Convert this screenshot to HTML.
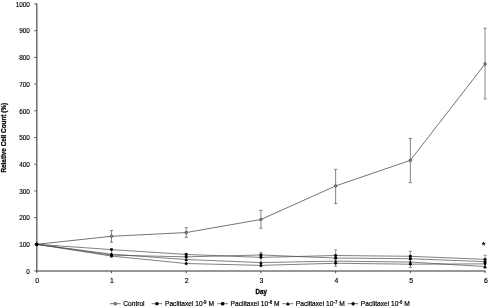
<!DOCTYPE html>
<html><head><meta charset="utf-8"><title>Chart</title>
<style>
html,body{margin:0;padding:0;background:#fff;}
svg{display:block;font-family:"Liberation Sans",Arial,sans-serif;}
</style></head><body>
<svg width="488" height="308" viewBox="0 0 488 308">
<rect width="488" height="308" fill="#fff"/>

<g stroke="#5e5e5e" stroke-width="1.35" fill="none">
<line x1="36.8" y1="3.5" x2="36.8" y2="271.6"/>
<line x1="36.199999999999996" y1="271.0" x2="485.56" y2="271.0" stroke="#747474" stroke-width="1.5"/>
</g>
<g stroke="#444" stroke-width="0.9" fill="none">
<line x1="34.3" y1="271.00" x2="36.8" y2="271.00"/>
<line x1="34.3" y1="244.30" x2="36.8" y2="244.30"/>
<line x1="34.3" y1="217.60" x2="36.8" y2="217.60"/>
<line x1="34.3" y1="190.90" x2="36.8" y2="190.90"/>
<line x1="34.3" y1="164.20" x2="36.8" y2="164.20"/>
<line x1="34.3" y1="137.50" x2="36.8" y2="137.50"/>
<line x1="34.3" y1="110.80" x2="36.8" y2="110.80"/>
<line x1="34.3" y1="84.10" x2="36.8" y2="84.10"/>
<line x1="34.3" y1="57.40" x2="36.8" y2="57.40"/>
<line x1="34.3" y1="30.70" x2="36.8" y2="30.70"/>
<line x1="34.3" y1="4.00" x2="36.8" y2="4.00"/>
<line x1="36.80" y1="271.0" x2="36.80" y2="273.2"/>
<line x1="111.51" y1="271.0" x2="111.51" y2="273.2"/>
<line x1="186.22" y1="271.0" x2="186.22" y2="273.2"/>
<line x1="260.93" y1="271.0" x2="260.93" y2="273.2"/>
<line x1="335.64" y1="271.0" x2="335.64" y2="273.2"/>
<line x1="410.35" y1="271.0" x2="410.35" y2="273.2"/>
<line x1="485.06" y1="271.0" x2="485.06" y2="273.2"/>
</g>
<g font-size="6.9" fill="#000" stroke="#000" stroke-width="0.15" text-anchor="end" transform="translate(29.9,0) scale(0.93,1)">
<text x="0" y="273.80">0</text>
<text x="0" y="247.10">100</text>
<text x="0" y="220.40">200</text>
<text x="0" y="193.70">300</text>
<text x="0" y="167.00">400</text>
<text x="0" y="140.30">500</text>
<text x="0" y="113.60">600</text>
<text x="0" y="86.90">700</text>
<text x="0" y="60.20">800</text>
<text x="0" y="33.50">900</text>
<text x="0" y="6.80">1000</text>
</g>
<g font-size="6.9" fill="#000" stroke="#000" stroke-width="0.15" text-anchor="middle">
<text x="37.10" y="283.1">0</text>
<text x="111.90" y="283.1">1</text>
<text x="186.70" y="283.1">2</text>
<text x="261.50" y="283.1">3</text>
<text x="336.30" y="283.1">4</text>
<text x="411.10" y="283.1">5</text>
<text x="485.90" y="283.1">6</text>
</g>
<text transform="translate(261.3,293.8) scale(0.89,1)" font-size="7" font-weight="bold" text-anchor="middle" fill="#000" stroke="#000" stroke-width="0.3">Day</text>
<text transform="translate(5.9,137.7) rotate(-90) scale(0.94,1)" font-size="6.8" font-weight="bold" text-anchor="middle" fill="#000" stroke="#000" stroke-width="0.25">Relative Cell Count (%)</text>
<polyline points="36.80,244.30 111.51,236.29 186.22,232.55 260.93,219.47 335.64,185.96 410.35,160.33 485.06,63.94" fill="none" stroke="#444" stroke-width="0.75"/>
<path d="M111.51 230.45V242.2M109.91 230.45h3.2M109.91 242.2h3.2" fill="none" stroke="#666" stroke-width="0.8"/>
<path d="M186.22 227.7V237.3M184.62 227.7h3.2M184.62 237.3h3.2" fill="none" stroke="#666" stroke-width="0.8"/>
<path d="M260.93 210.4V228.2M259.33 210.4h3.2M259.33 228.2h3.2" fill="none" stroke="#666" stroke-width="0.8"/>
<path d="M335.64 169.4V203.6M334.04 169.4h3.2M334.04 203.6h3.2" fill="none" stroke="#666" stroke-width="0.8"/>
<path d="M410.35 138.4V182.6M408.75 138.4h3.2M408.75 182.6h3.2" fill="none" stroke="#666" stroke-width="0.8"/>
<path d="M485.06 28.2V98.9M483.46 28.2h3.2M483.46 98.9h3.2" fill="none" stroke="#666" stroke-width="0.8"/>
<circle cx="36.80" cy="244.30" r="1.3" fill="#8a8a8a" stroke="#444" stroke-width="0.7"/>
<circle cx="111.51" cy="236.29" r="1.3" fill="#8a8a8a" stroke="#444" stroke-width="0.7"/>
<circle cx="186.22" cy="232.55" r="1.3" fill="#8a8a8a" stroke="#444" stroke-width="0.7"/>
<circle cx="260.93" cy="219.47" r="1.3" fill="#8a8a8a" stroke="#444" stroke-width="0.7"/>
<circle cx="335.64" cy="185.96" r="1.3" fill="#8a8a8a" stroke="#444" stroke-width="0.7"/>
<circle cx="410.35" cy="160.33" r="1.3" fill="#8a8a8a" stroke="#444" stroke-width="0.7"/>
<circle cx="485.06" cy="63.94" r="1.3" fill="#8a8a8a" stroke="#444" stroke-width="0.7"/>
<polyline points="36.80,244.30 111.51,249.64 186.22,254.45 260.93,257.38 335.64,255.51 410.35,256.31 485.06,259.33" fill="none" stroke="#4a4a4a" stroke-width="0.7"/>
<polyline points="36.80,244.30 111.51,255.11 186.22,256.85 260.93,254.98 335.64,258.05 410.35,258.72 485.06,261.65" fill="none" stroke="#4a4a4a" stroke-width="0.7"/>
<polyline points="36.80,244.30 111.51,254.18 186.22,259.52 260.93,262.59 335.64,261.12 410.35,262.06 485.06,266.57" fill="none" stroke="#4a4a4a" stroke-width="0.7"/>
<polyline points="36.80,244.30 111.51,256.05 186.22,263.52 260.93,265.39 335.64,263.26 410.35,264.19 485.06,263.87" fill="none" stroke="#4a4a4a" stroke-width="0.7"/>
<path d="M111.51 248.57V257.12M109.91 248.57h3.2M109.91 257.12h3.2" fill="none" stroke="#6a6a6a" stroke-width="0.7"/>
<path d="M186.22 253.38V264.59M184.62 253.38h3.2M184.62 264.59h3.2" fill="none" stroke="#6a6a6a" stroke-width="0.7"/>
<path d="M260.93 252.31V266.46M259.33 252.31h3.2M259.33 266.46h3.2" fill="none" stroke="#6a6a6a" stroke-width="0.7"/>
<path d="M335.64 249.91V266.30M334.04 249.91h3.2M334.04 266.30h3.2" fill="none" stroke="#6a6a6a" stroke-width="0.7"/>
<path d="M410.35 251.24V267.53M408.75 251.24h3.2M408.75 267.53h3.2" fill="none" stroke="#6a6a6a" stroke-width="0.7"/>
<path d="M485.06 255.25V268.33M483.46 255.25h3.2M483.46 268.33h3.2" fill="none" stroke="#6a6a6a" stroke-width="0.7"/>
<circle cx="36.80" cy="244.30" r="1.45" fill="#000"/>
<rect x="35.40" y="242.90" width="2.8" height="2.8" fill="#000"/>
<path d="M36.80 242.60L38.40 245.70H35.20Z" fill="#000"/>
<path d="M36.80 242.50L38.50 244.30L36.80 246.10L35.10 244.30Z" fill="#000"/>
<circle cx="111.51" cy="249.64" r="1.45" fill="#000"/>
<rect x="110.11" y="253.71" width="2.8" height="2.8" fill="#000"/>
<path d="M111.51 252.48L113.11 255.58H109.91Z" fill="#000"/>
<path d="M111.51 254.25L113.21 256.05L111.51 257.85L109.81 256.05Z" fill="#000"/>
<circle cx="186.22" cy="254.45" r="1.45" fill="#000"/>
<rect x="184.82" y="255.45" width="2.8" height="2.8" fill="#000"/>
<path d="M186.22 257.82L187.82 260.92H184.62Z" fill="#000"/>
<path d="M186.22 261.72L187.92 263.52L186.22 265.32L184.52 263.52Z" fill="#000"/>
<circle cx="260.93" cy="257.38" r="1.45" fill="#000"/>
<rect x="259.53" y="253.58" width="2.8" height="2.8" fill="#000"/>
<path d="M260.93 260.89L262.53 263.99H259.33Z" fill="#000"/>
<path d="M260.93 263.59L262.63 265.39L260.93 267.19L259.23 265.39Z" fill="#000"/>
<circle cx="335.64" cy="255.51" r="1.45" fill="#000"/>
<rect x="334.24" y="256.65" width="2.8" height="2.8" fill="#000"/>
<path d="M335.64 259.42L337.24 262.52H334.04Z" fill="#000"/>
<path d="M335.64 261.46L337.34 263.26L335.64 265.06L333.94 263.26Z" fill="#000"/>
<circle cx="410.35" cy="256.31" r="1.45" fill="#000"/>
<rect x="408.95" y="257.32" width="2.8" height="2.8" fill="#000"/>
<path d="M410.35 260.36L411.95 263.46H408.75Z" fill="#000"/>
<path d="M410.35 262.39L412.05 264.19L410.35 265.99L408.65 264.19Z" fill="#000"/>
<circle cx="485.06" cy="259.33" r="1.45" fill="#000"/>
<rect x="483.66" y="260.25" width="2.8" height="2.8" fill="#000"/>
<path d="M485.06 264.87L486.66 267.97H483.46Z" fill="#000"/>
<path d="M485.06 262.07L486.76 263.87L485.06 265.67L483.36 263.87Z" fill="#000"/>
<text x="483.6" y="247.9" font-size="9.5" font-weight="bold" text-anchor="middle" fill="#000">*</text>
<g font-size="7.4" fill="#000" stroke="#000" stroke-width="0.2">
<line x1="109.9" y1="303.7" x2="120.7" y2="303.7" stroke="#555" stroke-width="0.8"/>
<circle cx="115.3" cy="303.7" r="1.35" fill="#999" stroke="#333" stroke-width="0.7"/>
<text transform="translate(123.2,306.45) scale(0.9,1)">Control</text>
<line x1="151.6" y1="303.7" x2="162.2" y2="303.7" stroke="#555" stroke-width="0.8"/>
<circle cx="156.9" cy="303.7" r="1.6" fill="#000"/>
<text transform="translate(165,306.45) scale(0.9,1)">Paclitaxel 10<tspan font-size="4.9" dy="-2.6">-9</tspan><tspan dy="2.6"> M</tspan></text>
<line x1="217.3" y1="303.7" x2="228" y2="303.7" stroke="#555" stroke-width="0.8"/>
<rect x="221.1" y="302.2" width="3" height="3" fill="#000"/>
<text transform="translate(230.6,306.45) scale(0.9,1)">Paclitaxel 10<tspan font-size="4.9" dy="-2.6">-8</tspan><tspan dy="2.6"> M</tspan></text>
<line x1="282.4" y1="303.7" x2="293.3" y2="303.7" stroke="#555" stroke-width="0.8"/>
<path d="M287.9 301.9L289.7 305.2H286.1Z" fill="#000"/>
<text transform="translate(295.8,306.45) scale(0.9,1)">Paclitaxel 10<tspan font-size="4.9" dy="-2.6">-7</tspan><tspan dy="2.6"> M</tspan></text>
<line x1="347.7" y1="303.7" x2="358.4" y2="303.7" stroke="#555" stroke-width="0.8"/>
<path d="M353.1 301.7L355.1 303.7L353.1 305.7L351.1 303.7Z" fill="#000"/>
<text transform="translate(360.8,306.45) scale(0.9,1)">Paclitaxel 10<tspan font-size="4.9" dy="-2.6">-6</tspan><tspan dy="2.6"> M</tspan></text>
</g>
</svg></body></html>
